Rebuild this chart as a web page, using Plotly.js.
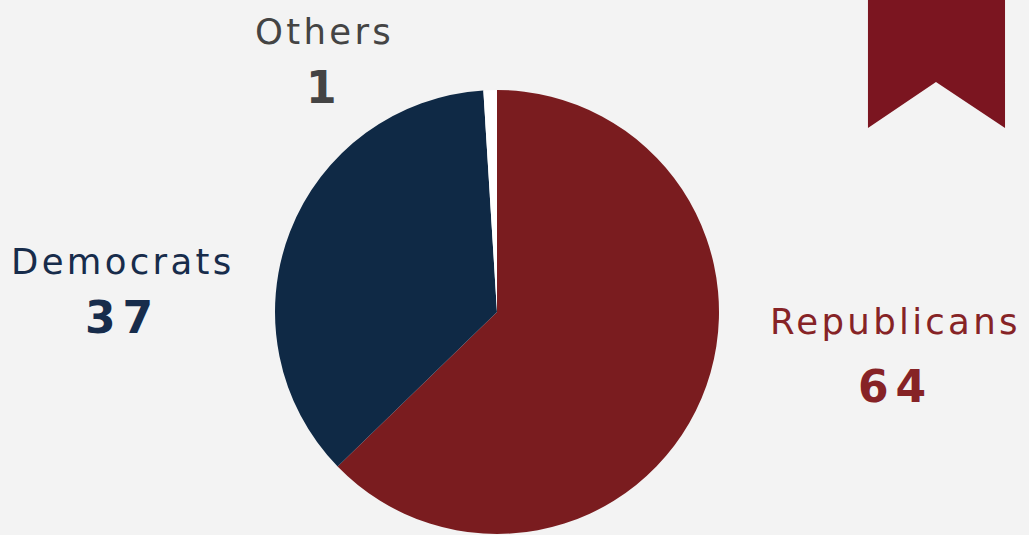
<!DOCTYPE html>
<html>
<head>
<meta charset="utf-8">
<script src="https://cdn.plot.ly/plotly-3.0.1.min.js"></script>
<style>html,body{margin:0;padding:0;background:#f3f3f3;}#chart{width:1029px;height:535px;}</style>
</head>
<body>
<div id="chart"></div>
<script>
const parties = ["Republicans", "Democrats", "Others"];
const seats = [64, 37, 1];

const sliceColors = ["#7a1c1f", "#0f2945", "#ffffff"];
const textColors = ["#862326", "#172c4b", "#444444"];
const labelPos = [
  {x: 0.8707, yl: 0.400, yn: 0.277},
  {x: 0.1195, yl: 0.512, yn: 0.406},
  {x: 0.3158, yl: 0.942, yn: 0.837}
];
const FONT = "DejaVu Sans, sans-serif";

const annotations = [];
parties.forEach((p, i) => {
  annotations.push({
    xref: "paper", yref: "paper", x: labelPos[i].x, y: labelPos[i].yl,
    xanchor: "center", yanchor: "middle", showarrow: false,
    text: '<span style="letter-spacing:3.3px">' + p + '</span>',
    font: {family: FONT, size: 35.5, color: textColors[i]}
  });
  annotations.push({
    xref: "paper", yref: "paper", x: labelPos[i].x, y: labelPos[i].yn,
    xanchor: "center", yanchor: "middle", showarrow: false,
    text: '<span style="letter-spacing:7px"><b>' + seats[i] + '</b></span>',
    font: {family: FONT, size: 44, color: textColors[i]}
  });
});

const data = [{
  type: "pie",
  labels: parties,
  values: seats,
  sort: false,
  direction: "clockwise",
  rotation: 0,
  textinfo: "none",
  hoverinfo: "label+value",
  marker: {colors: sliceColors, line: {width: 0}},
  domain: {x: [0.2672, 0.6988], y: [0.0019, 0.8318]},
  showlegend: false
}];

const layout = {
  width: 1029, height: 535,
  margin: {l: 0, r: 0, t: 0, b: 0},
  paper_bgcolor: "#f3f3f3",
  plot_bgcolor: "#f3f3f3",
  showlegend: false,
  annotations: annotations,
  shapes: [{
    type: "path", xref: "paper", yref: "paper",
    path: "M 0.8435 1.02 L 0.9767 1.02 L 0.9767 0.7607 L 0.9096 0.8467 L 0.8435 0.7607 Z",
    fillcolor: "#7b1520", line: {width: 0}
  }]
};

Plotly.newPlot("chart", data, layout, {displayModeBar: false, staticPlot: true});
</script>
</body>
</html>
